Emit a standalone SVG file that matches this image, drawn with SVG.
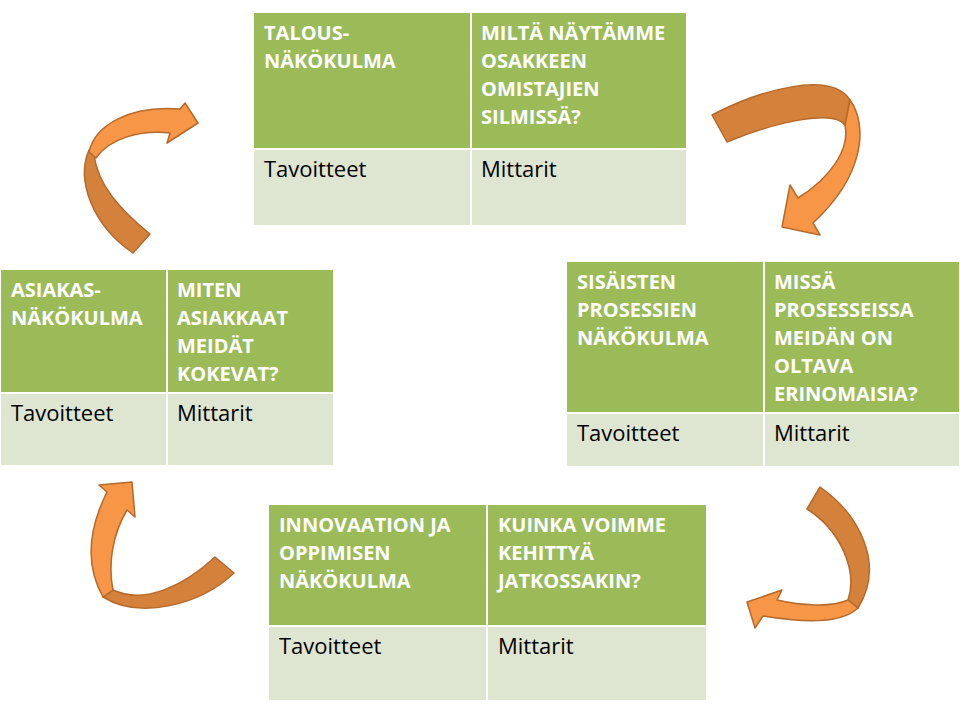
<svg xmlns="http://www.w3.org/2000/svg" width="960" height="720" viewBox="0 0 960 720">
<style>
.hd{fill:#9BBB59}
.bd{fill:#DEE6D2}
.h{font-family:"Open Sans","Liberation Sans",sans-serif;font-weight:bold;font-size:20px;fill:#FFFFFF}
.b{font-family:"Open Sans","Liberation Sans",sans-serif;font-size:22px;fill:#000000}
.dk{fill:#D3813B;stroke:#B5692B;stroke-width:1.5;stroke-linejoin:round}
.lt{fill:#F79646;stroke:#B5692B;stroke-width:1.5;stroke-linejoin:round}
</style>
<rect width="960" height="720" fill="#FFFFFF"/>

<g id="talous">
<rect class="hd" x="254" y="13" width="216" height="135"/>
<rect class="hd" x="472" y="13" width="214" height="135"/>
<rect class="bd" x="254" y="150" width="216" height="75"/>
<rect class="bd" x="472" y="150" width="214" height="75"/>
<text class="h" x="264" y="40">TALOUS-</text>
<text class="h" x="264" y="68">NÄKÖKULMA</text>
<text class="h" x="481" y="40">MILTÄ NÄYTÄMME</text>
<text class="h" x="481" y="68">OSAKKEEN</text>
<text class="h" x="481" y="96">OMISTAJIEN</text>
<text class="h" x="481" y="124">SILMISSÄ?</text>
<text class="b" x="264" y="177">Tavoitteet</text>
<text class="b" x="481" y="177">Mittarit</text>
</g>

<g id="asiakas">
<rect class="hd" x="1" y="270" width="165" height="122"/>
<rect class="hd" x="168" y="270" width="165" height="122"/>
<rect class="bd" x="1" y="394" width="165" height="71"/>
<rect class="bd" x="168" y="394" width="165" height="71"/>
<text class="h" x="11" y="297">ASIAKAS-</text>
<text class="h" x="11" y="325">NÄKÖKULMA</text>
<text class="h" x="177" y="297">MITEN</text>
<text class="h" x="177" y="325">ASIAKKAAT</text>
<text class="h" x="177" y="353">MEIDÄT</text>
<text class="h" x="177" y="381">KOKEVAT?</text>
<text class="b" x="11" y="421">Tavoitteet</text>
<text class="b" x="177" y="421">Mittarit</text>
</g>

<g id="sisaiset">
<rect class="hd" x="567" y="262" width="196" height="150"/>
<rect class="hd" x="765" y="262" width="194" height="150"/>
<rect class="bd" x="567" y="414" width="196" height="52"/>
<rect class="bd" x="765" y="414" width="194" height="52"/>
<text class="h" x="577" y="289">SISÄISTEN</text>
<text class="h" x="577" y="317">PROSESSIEN</text>
<text class="h" x="577" y="345">NÄKÖKULMA</text>
<text class="h" x="774" y="289">MISSÄ</text>
<text class="h" x="774" y="317">PROSESSEISSA</text>
<text class="h" x="774" y="345">MEIDÄN ON</text>
<text class="h" x="774" y="373">OLTAVA</text>
<text class="h" x="774" y="401">ERINOMAISIA?</text>
<text class="b" x="577" y="441">Tavoitteet</text>
<text class="b" x="774" y="441">Mittarit</text>
</g>

<g id="innovaatio">
<rect class="hd" x="269" y="505" width="217" height="120"/>
<rect class="hd" x="488" y="505" width="218" height="120"/>
<rect class="bd" x="269" y="627" width="217" height="73"/>
<rect class="bd" x="488" y="627" width="218" height="73"/>
<text class="h" x="279" y="532">INNOVAATION JA</text>
<text class="h" x="279" y="560">OPPIMISEN</text>
<text class="h" x="279" y="588">NÄKÖKULMA</text>
<text class="h" x="498" y="532">KUINKA VOIMME</text>
<text class="h" x="498" y="560">KEHITTYÄ</text>
<text class="h" x="498" y="588">JATKOSSAKIN?</text>
<text class="b" x="279" y="654">Tavoitteet</text>
<text class="b" x="498" y="654">Mittarit</text>
</g>

<g id="connectors">
<g id="arrow-asiakas-talous">
<path class="dk" d="M133,253 L150,234 C120,210 98,185 94,155 L89,150 C76,180 92,225 133,253 Z"/>
<path class="lt" d="M89,152 C95,125 130,105 180,109 L185,103 L198,123 L167,143 L170,133 C140,130 110,138 96,158 Z"/>
</g>
<g id="arrow-talous-sisaiset">
<path class="dk" d="M712,115 C760,90 830,70 850,100 L845,125 C835,110 780,120 727,142 Z"/>
<path class="lt" d="M850,100 C868,125 865,175 813,223 L820,235 L782,227 L790,185 L798,198 C830,178 850,150 845,125 Z"/>
</g>
<g id="arrow-sisaiset-innovaatio">
<path class="dk" d="M820,487 C860,515 885,565 858,608 L848,600 C858,570 840,530 807,509 Z"/>
<path class="lt" d="M858,608 C840,625 800,622 763,616 L755,628 L747,602 L782,590 L777,600 C800,605 830,608 848,600 Z"/>
</g>
<g id="arrow-innovaatio-asiakas">
<path class="dk" d="M215,557 C185,585 145,605 113,590 L103,597 C140,620 200,605 234,573 Z"/>
<path class="lt" d="M103,597 C85,565 88,530 107,492 L99,485 L132,482 L135,517 L127,510 C112,535 108,565 113,590 Z"/>
</g>
</g>
</svg>
